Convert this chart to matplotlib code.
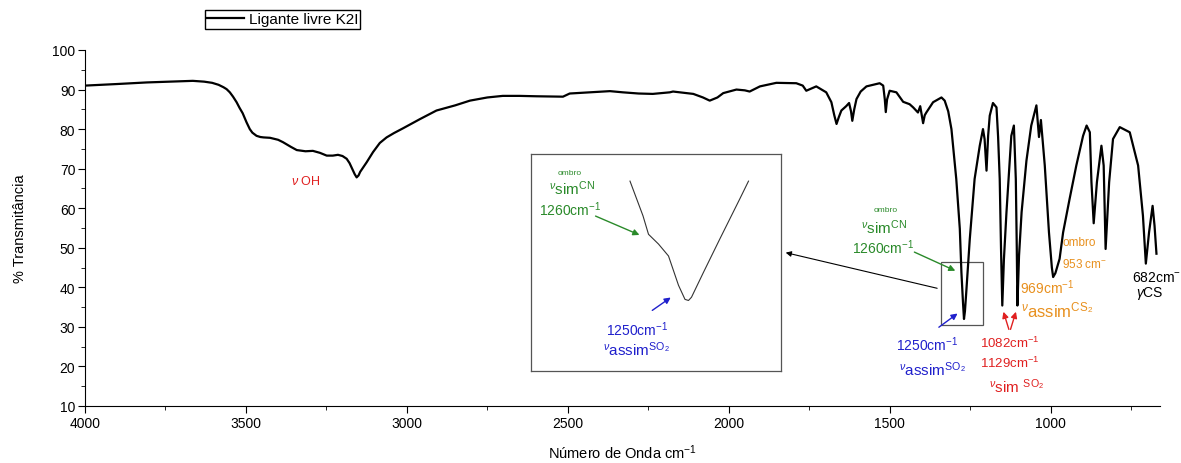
import matplotlib.pyplot as plt
from matplotlib.patches import Rectangle
from matplotlib.ticker import MultipleLocator

plt.rcParams['font.family'] = ['Liberation Sans', 'DejaVu Sans']
plt.rcParams['mathtext.fontset'] = 'custom'
plt.rcParams['mathtext.rm'] = 'Liberation Sans'
plt.rcParams['mathtext.it'] = 'Liberation Sans:italic'

# espectro IV do ligante livre
wavenumber = [4000, 3900, 3808, 3700, 3665, 3630, 3605, 3585, 3570, 3560, 3550, 3540, 3529, 3520,
              3510, 3498, 3488, 3480, 3467, 3455, 3445, 3425, 3400, 3385, 3360, 3342, 3315, 3292,
              3270, 3249, 3230, 3214, 3200, 3187, 3178, 3170, 3162, 3156, 3150, 3145, 3135, 3125,
              3115, 3105, 3084, 3063, 3040, 3012, 2960, 2908, 2850, 2804, 2750, 2702, 2650, 2597,
              2515, 2494, 2430, 2369, 2329, 2280, 2236, 2183, 2173, 2140, 2110, 2080, 2059, 2035,
              2017, 1976, 1950, 1935, 1903, 1852, 1790, 1770, 1759, 1728, 1697, 1681, 1672, 1665,
              1658, 1650, 1635, 1626, 1620, 1616, 1610, 1603, 1590, 1572, 1531, 1520, 1515, 1512,
              1508, 1500, 1479, 1458, 1438, 1427, 1412, 1405, 1400, 1396, 1391, 1386, 1365, 1339,
              1329, 1318, 1308, 1303, 1293, 1282, 1277, 1272, 1269, 1266, 1262, 1251, 1236, 1220,
              1210, 1205, 1199, 1194, 1189, 1179, 1168, 1163, 1158, 1154, 1150, 1145, 1137, 1122,
              1114, 1108, 1105, 1103, 1098, 1090, 1075, 1060, 1044, 1036, 1030, 1018, 1005, 996,
              992, 985, 972, 961, 941, 920, 899, 888, 878, 873, 866, 856, 842, 835, 829, 818, 806,
              785, 754, 728, 713, 704, 694, 683, 677, 671]
transmittance = [91.0, 91.4, 91.8, 92.1, 92.2, 92.0, 91.7, 91.2, 90.6, 90.1, 89.3, 88.2, 86.8, 85.4,
                 84.0, 81.7, 80.0, 79.1, 78.3, 78.0, 77.9, 77.8, 77.3, 76.7, 75.5, 74.7, 74.4, 74.5,
                 74.0, 73.3, 73.3, 73.5, 73.2, 72.5, 71.4, 70.0, 68.6, 67.8, 68.3, 69.2, 70.4, 71.6,
                 72.9, 74.2, 76.5, 77.9, 79.0, 80.2, 82.5, 84.7, 86.0, 87.2, 88.0, 88.4, 88.4, 88.3,
                 88.2, 89.0, 89.3, 89.6, 89.3, 89.0, 88.9, 89.3, 89.5, 89.2, 88.9, 88.0, 87.2, 88.0,
                 89.1, 90.0, 89.8, 89.5, 90.8, 91.7, 91.6, 91.0, 89.7, 90.8, 89.3, 86.8, 83.5, 81.3,
                 83.0, 84.7, 85.8, 86.6, 84.5, 82.1, 85.0, 87.6, 89.5, 90.8, 91.6, 91.0, 87.5, 84.3,
                 87.5, 89.7, 89.3, 86.9, 86.3, 85.5, 84.2, 85.8, 83.5, 81.5, 83.5, 84.2, 86.8, 88.0,
                 87.2, 84.5, 80.0, 75.8, 67.4, 54.8, 43.8, 36.0, 32.0, 34.0, 38.7, 52.2, 67.4, 75.8,
                 80.0, 77.5, 69.5, 78.3, 83.4, 86.6, 85.5, 78.0, 67.4, 50.0, 35.4, 47.0, 59.0, 78.3,
                 80.9, 67.4, 50.0, 35.4, 48.0, 59.0, 72.0, 80.9, 86.0, 78.0, 82.3, 70.8, 53.9, 45.0,
                 42.6, 43.6, 47.2, 53.9, 62.3, 70.8, 78.3, 80.9, 79.2, 66.6, 56.2, 66.6, 75.8, 70.8,
                 49.7, 66.6, 77.5, 80.5, 79.2, 70.8, 58.1, 46.0, 53.9, 60.6, 55.6, 48.5]

# detalhe ampliado da banda em 1250
inset_wn = [1280.2, 1278.9, 1277.6, 1276.5, 1274.5, 1272.5, 1270.5, 1269.2, 1268.5, 1267.9,
            1265.5, 1262.2, 1258.2, 1256.5]
inset_t = [47.5, 45.9, 44.3, 42.6, 41.7, 40.6, 37.9, 36.6, 36.5, 36.8, 39.1, 42.2, 45.9, 47.5]

fig = plt.figure(figsize=(11.81, 4.64), dpi=100)
ax = fig.add_axes([85/1181, 1-407/464, 1075/1181, 356/464])
ax.plot(wavenumber, transmittance, color='black', lw=1.6, label='Ligante livre K2I')
ax.set_xlim(4000, 660)
ax.set_ylim(10, 100)
ax.spines['top'].set_visible(False)
ax.spines['right'].set_visible(False)
ax.xaxis.set_major_locator(MultipleLocator(500))
ax.xaxis.set_minor_locator(MultipleLocator(250))
ax.yaxis.set_major_locator(MultipleLocator(10))
ax.yaxis.set_minor_locator(MultipleLocator(5))
ax.tick_params(which='major', length=5, labelsize=10, pad=2)
ax.tick_params(which='minor', length=3)
ax.set_xlabel('Número de Onda cm$^{-1}$', fontsize=10.5, labelpad=9)
ax.set_ylabel('% Transmitância', fontsize=10.5, labelpad=18)
ax.legend(loc='upper left', bbox_to_anchor=(205/1181, 1-11/464), bbox_transform=fig.transFigure,
          fancybox=False, edgecolor='black', framealpha=1, fontsize=11, handlelength=2.4,
          borderpad=0.15, handletextpad=0.3, borderaxespad=0)

green = '#2a8a2a'
blue = '#2020cc'
red = '#e02020'
orange = '#e8901e'

ax.text(3314, 67.1, r'$\nu$ OH', color=red, fontsize=9, ha='center', va='center')

# banda 1250 / ombro 1260
ax.text(1512, 59.6, 'ombro', color=green, fontsize=6, ha='center', va='center')
ax.text(1518, 55.3, r'$^{\nu}\mathregular{sim}^{\mathregular{CN}}$', color=green, fontsize=11, ha='center', va='center')
ax.text(1521, 50.2, '1260cm$^{-1}$', color=green, fontsize=10, ha='center', va='center')
ax.annotate('', xy=(1288, 43.9), xytext=(1431, 49.2),
            arrowprops=dict(arrowstyle='-|>', color=green, lw=1, mutation_scale=9))
ax.annotate('', xy=(1282, 33.8), xytext=(1354, 29.5),
            arrowprops=dict(arrowstyle='-|>', color=blue, lw=1, mutation_scale=9))
ax.text(1385, 25.7, '1250cm$^{-1}$', color=blue, fontsize=10, ha='center', va='center')
ax.text(1366, 19.4, r'$^{\nu}\mathregular{assim}^{\mathregular{SO_2}}$', color=blue, fontsize=11, ha='center', va='center')

# SO2 simetrico
for xd in [1149, 1105]:
    ax.annotate('', xy=(xd, 34.5), xytext=(1127, 28.7),
                arrowprops=dict(arrowstyle='-|>', color=red, lw=1, mutation_scale=9))
ax.text(1127, 26.2, '1082cm$^{-1}$', color=red, fontsize=9.5, ha='center', va='center')
ax.text(1127, 20.9, '1129cm$^{-1}$', color=red, fontsize=9.5, ha='center', va='center')
ax.text(1105, 15.1, r'$^{\nu}\mathregular{sim}\ ^{\mathregular{SO_2}}$', color=red, fontsize=11, ha='center', va='center')

# CS2
ax.text(1009, 40.1, '969cm$^{-1}$', color=orange, fontsize=10, ha='center', va='center')
ax.text(978, 34.5, r'$^{\nu}\mathregular{assim}^{\mathregular{CS_2}}$', color=orange, fontsize=12, ha='center', va='center')
ax.text(910, 51.5, 'ombro', color=orange, fontsize=8.5, ha='center', va='center')
ax.text(894, 45.9, '953 cm$^{-}$', color=orange, fontsize=8.5, ha='center', va='center')
ax.text(670, 42.6, '682cm$^{-}$', color='black', fontsize=10, ha='center', va='center')
ax.text(692, 38.8, r'$\gamma$CS', color='black', fontsize=10, ha='center', va='center')

# caixa em volta da banda e seta para o detalhe
ax.add_patch(Rectangle((1210, 30.5), 129, 15.8, fill=False, edgecolor='#555555', lw=0.9))
ax.annotate('', xy=(783/1181, 1-253/464), xycoords='figure fraction', xytext=(1344, 39.6),
            textcoords='data', arrowprops=dict(arrowstyle='-|>', color='black', lw=0.8, mutation_scale=8))

# detalhe
axin = fig.add_axes([531/1181, 1-372/464, 250/1181, 217/464])
axin.plot(inset_wn, inset_t, color='#333333', lw=0.8)
axin.set_xlim(1300, 1250)
axin.set_ylim(30, 50)
axin.set_xticks([])
axin.set_yticks([])
for s in axin.spines.values():
    s.set_edgecolor('#555555')
    s.set_linewidth(0.9)
axin.text(0.156, 0.917, 'ombro', color=green, fontsize=6, ha='center', va='center', transform=axin.transAxes)
axin.text(0.164, 0.843, r'$^{\nu}\mathregular{sim}^{\mathregular{CN}}$', color=green, fontsize=11, ha='center', va='center', transform=axin.transAxes)
axin.text(0.156, 0.747, '1260cm$^{-1}$', color=green, fontsize=10, ha='center', va='center', transform=axin.transAxes)
axin.annotate('', xy=(0.444, 0.622), xytext=(0.248, 0.719), xycoords='axes fraction',
              arrowprops=dict(arrowstyle='-|>', color=green, lw=1, mutation_scale=9))
axin.annotate('', xy=(0.568, 0.346), xytext=(0.476, 0.272), xycoords='axes fraction',
              arrowprops=dict(arrowstyle='-|>', color=blue, lw=1, mutation_scale=9))
axin.text(0.424, 0.194, '1250cm$^{-1}$', color=blue, fontsize=10, ha='center', va='center', transform=axin.transAxes)
axin.text(0.424, 0.101, r'$^{\nu}\mathregular{assim}^{\mathregular{SO_2}}$', color=blue, fontsize=11, ha='center', va='center', transform=axin.transAxes)

fig.savefig('out.png', dpi=100)
